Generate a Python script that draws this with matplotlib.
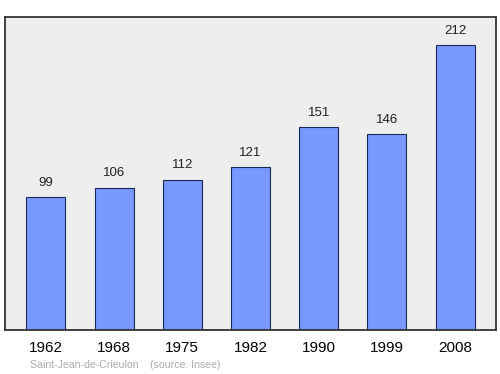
import matplotlib.pyplot as plt

years = ['1962', '1968', '1975', '1982', '1990', '1999', '2008']
population = [99, 106, 112, 121, 151, 146, 212]

plt.rcParams['font.family'] = ['Liberation Sans', 'DejaVu Sans']

fig = plt.figure(figsize=(5, 3.74), dpi=100)
ax = fig.add_axes([0.01, 0.1176, 0.982, 0.837])
ax.set_facecolor('#eeeeee')

x = range(len(years))
ax.bar(x, population, width=0.57, color='#7799ff', edgecolor='#1a2a55', linewidth=0.8, zorder=2)
for xi, v in zip(x, population):
    ax.annotate(str(v), (xi, v), xytext=(0, 6), textcoords='offset points',
                ha='center', va='bottom', fontsize=9.5, color='#222222')

ax.set_xlim(-0.6, len(years) - 0.4)
ax.set_ylim(0, 233)
ax.set_yticks([])
ax.set_xticks(list(x))
ax.set_xticklabels(years, fontsize=11)
ax.tick_params(axis='x', length=0, pad=8)
for s in ax.spines.values():
    s.set_linewidth(1.3)
    s.set_color('#333333')

fig.text(0.06, 0.015, 'Saint-Jean-de-Crieulon    (source: Insee)', fontsize=7.6, color='#aaaaaa')

fig.savefig('out.png', dpi=100)
